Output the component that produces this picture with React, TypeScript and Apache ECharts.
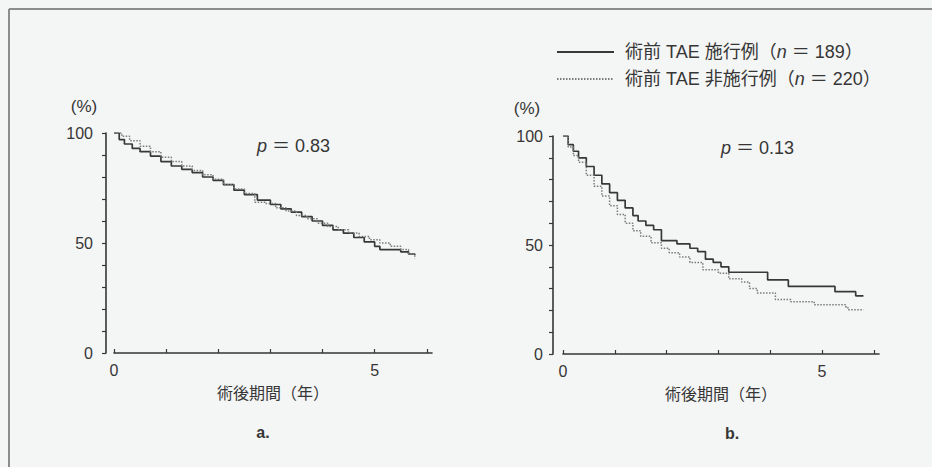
import React, { useEffect, useRef } from "react";
import * as echarts from "echarts";

// ---- data ----
const seriesNames = ["術前 TAE 施行例（n＝189）", "術前 TAE 非施行例（n＝220）"];
const xTickValues = [0, 1, 2, 3, 4, 5, 6];
const xTickLabels = [0, 5];
const yTickValues = [0, 10, 20, 30, 40, 50, 60, 70, 80, 90, 100];
const yTickLabels = [0, 50, 100];
const pValues = ["0.83", "0.13"];
const panelLabels = ["a.", "b."];

// panel a – TAE (solid)
const aTaeT = [0, 0.1, 0.2, 0.35, 0.5, 0.7, 0.9, 1.1, 1.3, 1.5, 1.7, 1.9, 2.1, 2.3, 2.5, 2.75, 3.0, 3.2, 3.4, 3.6, 3.8, 4.0, 4.2, 4.4, 4.6, 4.8, 5.0, 5.1, 5.5, 5.65, 5.77];
const aTaeS = [100, 97, 95, 93, 91.5, 89.5, 87, 85, 83.5, 82, 80, 78.5, 76.5, 74, 72, 69.5, 67.5, 65.5, 64, 62, 60, 58, 56, 54.5, 52.5, 50.5, 48.5, 47, 46, 45, 44.5];
// panel a – non TAE (dotted)
const aNonT = [0, 0.15, 0.3, 0.5, 0.7, 0.9, 1.1, 1.3, 1.5, 1.7, 1.9, 2.1, 2.3, 2.5, 2.7, 2.9, 3.1, 3.3, 3.5, 3.7, 3.9, 4.1, 4.3, 4.5, 4.7, 4.9, 5.1, 5.3, 5.5, 5.65, 5.77];
const aNonS = [100, 98.5, 96.5, 94, 91.5, 89, 87, 85, 83, 81, 79, 76.5, 74.5, 72.5, 68.5, 68, 66, 64.5, 62.5, 61, 59, 57.5, 56, 54.5, 53, 51.5, 50, 48.5, 47, 45, 43];
// panel b – TAE (solid)
const bTaeT = [0, 0.1, 0.2, 0.3, 0.45, 0.6, 0.75, 0.9, 1.05, 1.2, 1.35, 1.45, 1.6, 1.75, 1.9, 2.2, 2.45, 2.6, 2.75, 2.9, 3.05, 3.2, 3.95, 4.35, 5.25, 5.65, 5.8];
const bTaeS = [100, 96, 93, 90, 86, 82, 78, 74, 70.5, 67, 63.5, 61, 59, 57, 52, 50.5, 48.5, 47, 43.5, 42, 40, 37.5, 34, 31, 28.6, 26.7, 26.7];
// panel b – non TAE (dotted)
const bNonT = [0, 0.1, 0.2, 0.3, 0.45, 0.6, 0.75, 0.9, 1.05, 1.2, 1.35, 1.5, 1.7, 1.9, 2.05, 2.25, 2.45, 2.7, 3.0, 3.2, 3.45, 3.6, 3.75, 4.1, 4.4, 4.85, 5.45, 5.5, 5.8];
const bNonS = [100, 95, 91, 88, 82, 77, 72.5, 68, 64, 60, 56.5, 54, 51, 48.5, 46.5, 44.5, 42, 38.7, 37, 34.5, 33, 30, 28, 25, 24, 22.6, 21.7, 20.3, 20.3];

const zip = (t: number[], s: number[]) => t.map((v, i) => [v, s[i]]);

const FONT = "'Liberation Sans', 'Noto Sans CJK JP', sans-serif";
const INK = "#363636";
const SOLID = "#383838";
const DOTTED = "#7a7a7a";

export default function App() {
  const ref = useRef<HTMLDivElement>(null);
  useEffect(() => {
    if (!ref.current) return;
    const chart = echarts.init(ref.current, undefined, { renderer: "svg" });

    const mkX = (gridIndex: number) => ({
      type: "value",
      gridIndex,
      min: 0,
      max: 6.1,
      interval: 1,
      axisLine: { show: true, onZero: false, lineStyle: { color: INK, width: 1.6 } },
      axisTick: { show: true, inside: true, length: 4, customValues: xTickValues, lineStyle: { color: INK, width: 1.2 } },
      axisLabel: { customValues: xTickLabels, color: INK, fontSize: 16, fontFamily: FONT, margin: 9 },
      splitLine: { show: false },
      name: "術後期間（年）",
      nameLocation: "middle",
      nameGap: 32,
      nameTextStyle: { color: INK, fontSize: 16, fontFamily: FONT },
    });
    const mkY = (gridIndex: number, offset: number, margin: number) => ({
      type: "value",
      gridIndex,
      min: 0,
      max: 100,
      interval: 10,
      offset,
      axisLine: { show: true, onZero: false, lineStyle: { color: INK, width: 1.6 } },
      axisTick: { show: true, inside: false, length: 4, customValues: yTickValues, lineStyle: { color: INK, width: 1.2 } },
      axisLabel: { customValues: yTickLabels, color: INK, fontSize: 16, fontFamily: FONT, margin },
      splitLine: { show: false },
    });

    const line = (name: string, data: number[][], idx: number, dotted: boolean) => ({
      type: "line",
      name,
      data,
      xAxisIndex: idx,
      yAxisIndex: idx,
      step: "end",
      showSymbol: false,
      symbol: "none",
      lineStyle: dotted
        ? { color: DOTTED, width: 1.5, type: [1.5, 1.5] }
        : { color: SOLID, width: 1.7 },
      itemStyle: { color: dotted ? DOTTED : SOLID },
    });

    const pText = (left: number, top: number, v: string) => ({
      type: "text",
      left,
      top,
      style: {
        text: "{i|p} ＝ " + v,
        fill: INK,
        font: `18px ${FONT}`,
        rich: { i: { fontStyle: "italic", fontSize: 18, fontFamily: FONT, fill: INK } },
      },
    });
    const plainText = (x: number, y: number, t: string, size: number, weight = "normal") => ({
      type: "text",
      x,
      y,
      style: {
        text: t,
        fill: INK,
        font: `${weight} ${size}px ${FONT}`,
        align: "center",
        verticalAlign: "middle",
      },
    });

    chart.setOption({
      animation: false,
      backgroundColor: "#f4f5f5",
      grid: [
        { left: 114, top: 133, width: 318, height: 220 },
        { left: 563, top: 136, width: 316, height: 218 },
      ],
      xAxis: [mkX(0), mkX(1)],
      yAxis: [mkY(0, 8, 13), mkY(1, 10, 10)],
      legend: {
        orient: "vertical",
        left: 556,
        top: 43,
        padding: 0,
        itemGap: 9,
        itemWidth: 57,
        itemHeight: 14,
        data: seriesNames,
        selectedMode: false,
        itemStyle: { opacity: 0 },
        formatter: (n: string) => n.replace("n＝", "{i|n} ＝ "),
        textStyle: {
          color: INK,
          fontSize: 18,
          lineHeight: 18,
          fontFamily: FONT,
          padding: [0, 0, 0, 6],
          rich: { i: { fontStyle: "italic", fontSize: 18, lineHeight: 18, fontFamily: FONT, color: INK } },
        },
      },
      series: [
        line(seriesNames[0], zip(aTaeT, aTaeS), 0, false),
        line(seriesNames[1], zip(aNonT, aNonS), 0, true),
        line(seriesNames[0], zip(bTaeT, bTaeS), 1, false),
        line(seriesNames[1], zip(bNonT, bNonS), 1, true),
      ],
      graphic: [
        { type: "line", shape: { x1: 9, y1: 9, x2: 940, y2: 9 }, style: { stroke: "#8c8c8c", lineWidth: 2 } },
        { type: "line", shape: { x1: 9, y1: 9, x2: 9, y2: 470 }, style: { stroke: "#8c8c8c", lineWidth: 2 } },
        plainText(84, 106, "(%)", 17),
        plainText(527, 108, "(%)", 17),
        pText(257, 137, pValues[0]),
        pText(721, 139, pValues[1]),
        plainText(263, 432, panelLabels[0], 16, "bold"),
        plainText(732, 433, panelLabels[1], 16, "bold"),
      ],
    });
    return () => chart.dispose();
  }, []);
  return (
    <div
      ref={ref}
      style={{ position: "fixed", left: 0, top: 0, width: 932, height: 467 }}
    />
  );
}
